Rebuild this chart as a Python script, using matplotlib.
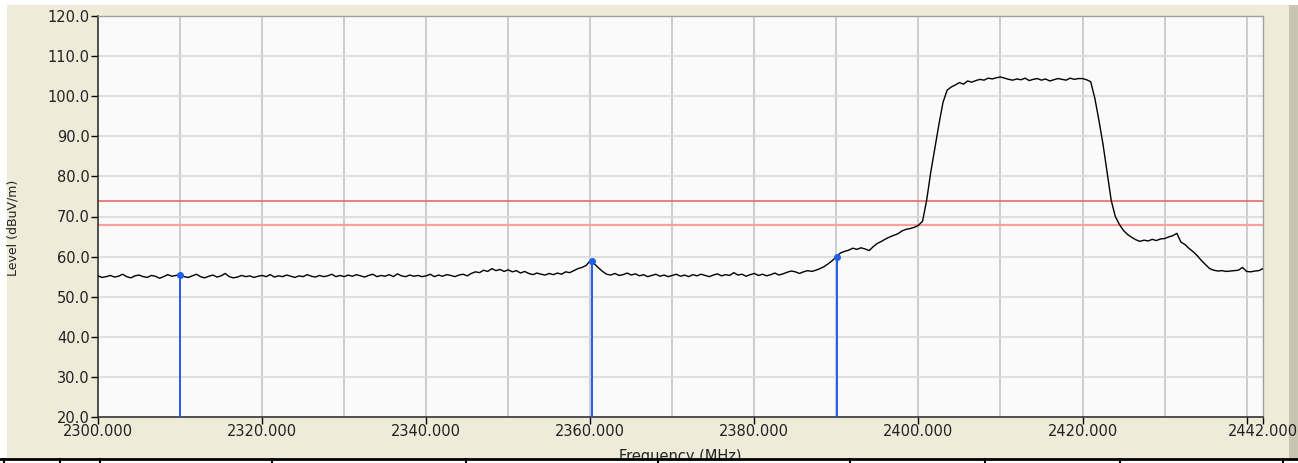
import matplotlib
matplotlib.use("Agg")
import matplotlib.pyplot as plt
import numpy as np
from matplotlib.patches import Rectangle
from matplotlib.lines import Line2D

# trace, 0.5 MHz steps from 2300 to 2442 MHz
freq_start = 2300.0
freq_step = 0.5
level = [
    # 2300
    55.2, 54.8, 55.0, 55.3, 54.9, 55.1, 55.6, 55.0, 54.7, 55.2, 55.4, 55.0, 54.8, 55.3, 55.1, 54.6, 55.0, 55.5, 55.1, 55.3,
    # 2310
    55.5, 55.0, 54.8, 55.2, 55.6, 55.0, 54.7, 55.1, 55.4, 54.9, 55.2, 55.8, 55.0, 54.7, 54.9, 55.3, 55.0, 55.2, 54.8, 55.1,
    # 2320
    55.3, 55.0, 55.5, 54.9, 55.2, 55.0, 55.4, 55.1, 54.8, 55.2, 55.0, 55.5, 55.1, 54.9, 55.3, 55.0, 55.2, 55.6, 55.0, 55.3,
    # 2330
    55.0, 55.4, 55.1, 55.5, 55.2, 54.9, 55.3, 55.6, 55.0, 55.3, 55.1, 55.5, 55.0, 55.7, 55.2, 55.0, 55.4, 55.1, 55.3, 55.0,
    # 2340
    55.2, 55.6, 55.0, 55.4, 55.1, 55.5, 55.3, 55.0, 55.4, 55.6, 55.2, 55.8, 56.2, 56.0, 56.6, 56.3, 57.0, 56.5, 56.8, 56.3,
    # 2350
    56.7, 56.2, 56.5, 55.9, 56.3, 55.8, 55.5, 55.9, 55.6, 55.4, 55.8, 55.5, 55.9, 55.6, 56.2, 56.0, 56.5, 57.0, 57.3, 57.8,
    # 2360
    59.0, 58.2, 57.2, 56.3, 55.6, 55.4, 55.8, 55.3, 55.5, 55.9, 55.4, 55.7, 55.2, 55.5, 55.0, 55.3, 55.6, 55.1, 55.4, 55.0,
    # 2370
    55.3, 55.6, 55.1, 55.4, 55.0, 55.5, 55.2, 55.6, 55.3, 55.0, 55.4, 55.7, 55.2, 55.5, 55.3, 56.0, 55.4, 55.6, 55.1, 55.5,
    # 2380
    55.8, 55.3, 55.6, 55.2, 55.5, 55.9, 55.4, 55.7, 56.1, 56.4, 56.2, 55.8, 56.2, 56.5, 56.3, 56.6, 57.0, 57.5, 58.2, 59.0,
    # 2390
    60.0, 60.9, 61.3, 61.6, 62.1, 61.8, 62.2, 61.9, 61.5, 62.5, 63.3, 63.8, 64.4, 64.9, 65.3, 65.7, 66.4, 66.8, 67.0, 67.3,
    # 2400
    67.8, 68.8, 74.0, 81.0, 87.0, 93.0, 98.5, 101.5, 102.3, 102.8, 103.4, 103.0, 103.8, 103.5, 103.9, 104.2, 104.0, 104.5, 104.3, 104.6,
    # 2410
    104.8, 104.5, 104.2, 104.0, 104.3, 104.1, 104.5, 103.9, 104.2, 104.4, 104.0, 104.3, 103.8, 104.1, 104.4, 104.2, 104.0, 104.5, 104.2, 104.4,
    # 2420
    104.4, 104.1, 103.6, 99.5, 94.0, 88.0, 81.0, 74.0, 70.0, 68.0, 66.5, 65.5, 64.8, 64.2, 63.8, 64.1, 63.9, 64.3, 64.0, 64.4,
    # 2430
    64.5, 64.9, 65.2, 65.8, 63.6, 63.0, 62.0, 61.2, 60.2, 59.0, 58.0, 57.0, 56.6, 56.4, 56.5, 56.3, 56.4, 56.5, 56.6, 57.3,
    # 2440
    56.3, 56.2, 56.4, 56.5, 57.0,
]

limit_upper = 73.8
limit_lower = 68.0

marker_freq = [2310.0, 2360.2, 2390.1]
marker_level = [55.5, 59.0, 60.0]

x_labels_at = [2300, 2320, 2340, 2360, 2380, 2400, 2420, 2442]
y_ticks = [20, 30, 40, 50, 60, 70, 80, 90, 100, 110, 120]

W, H = 1298, 463
fig = plt.figure(figsize=(W / 100, H / 100), dpi=100)
fig.patch.set_facecolor("white")

# window background
fig.patches.append(Rectangle((7 / W, 4 / H), (1289 - 7) / W, (458 - 4) / H,
                             transform=fig.transFigure, facecolor="#EFEBD9",
                             edgecolor="none", zorder=-10))
fig.patches.append(Rectangle((1289 / W, 4 / H), 9 / W, (458 - 4) / H,
                             transform=fig.transFigure, facecolor="#C9C5B3",
                             edgecolor="none", zorder=-9))

ax = fig.add_axes([98 / W, 46 / H, 1165 / W, 401 / H])
ax.set_facecolor("#FAFAFA")

freq = freq_start + freq_step * np.arange(len(level))

ax.set_xlim(2300, 2442)
ax.set_ylim(20, 120)

# grid
for f in range(2310, 2442, 10):
    ax.axvline(f, color="#C4C4C4", lw=1.2, zorder=1)
for v in y_ticks[1:-1]:
    ax.axhline(v, color="#DADADA", lw=1.2, zorder=1)

ax.axhline(limit_upper, color="#E86A6A", lw=1.2, zorder=2)
ax.axhline(limit_lower, color="#FFA0A0", lw=1.6, zorder=2)

ax.plot(freq, level, color="black", lw=1.0, zorder=3)

ax.vlines(marker_freq, 20, marker_level, color="#1F5FE8", lw=1.4, zorder=4)
ax.plot(marker_freq, marker_level, "o", color="#1F5FE8", ms=4, zorder=5)

ax.set_xticks(x_labels_at + [2440])
ax.set_xticklabels(["%.3f" % v for v in x_labels_at] + [""])
ax.set_yticks(y_ticks)
ax.set_yticklabels(["%.1f" % v for v in y_ticks])
ax.tick_params(axis="both", direction="out", length=5, width=1, colors="black",
               labelsize=10.5, pad=1)
ax.tick_params(axis="x", pad=0)
for lab in ax.get_xticklabels() + ax.get_yticklabels():
    lab.set_color("#222222")

for side in ("left", "bottom"):
    ax.spines[side].set_color("#333333")
    ax.spines[side].set_linewidth(1.2)
for side in ("top", "right"):
    ax.spines[side].set_color("#A0A0A0")
    ax.spines[side].set_linewidth(1.0)

fig.text(13 / W, 1 - 228 / H, "Level (dBuV/m)", rotation=90, fontsize=9,
         ha="center", va="center", color="#222222")
fig.text(680 / W, 1 - 456 / H, "Frequency (MHz)", fontsize=10.5,
         ha="center", va="center", color="#222222")

# table border underneath the screenshot
fig.patches.append(Rectangle((0, 0), 1, 4 / H, transform=fig.transFigure,
                             facecolor="white", edgecolor="none", zorder=10))
fig.lines.append(Line2D([0, 1], [4 / H, 4 / H], transform=fig.transFigure,
                        color="black", lw=2, zorder=11))
for xs in [4, 60, 100, 272, 466, 658, 850, 985, 1120, 1283]:
    fig.lines.append(Line2D([xs / W, xs / W], [0, 4 / H], transform=fig.transFigure,
                            color="black", lw=1.5, zorder=11))

fig.savefig("out.png", dpi=100)
